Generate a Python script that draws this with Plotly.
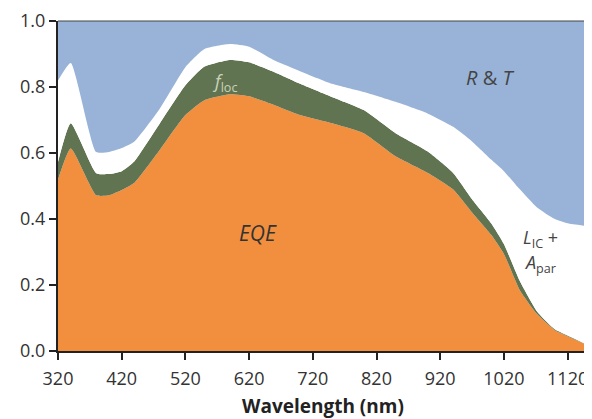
import plotly.graph_objects as go

wavelength = [320, 340, 380, 400, 420, 440, 480, 520, 550, 590, 620, 660, 700, 750,
              800, 850, 900, 940, 970, 1000, 1020, 1045, 1072, 1100, 1120, 1152]
eqe = [0.52, 0.614, 0.472, 0.472, 0.488, 0.51, 0.61, 0.715, 0.76, 0.778, 0.772, 0.745,
       0.715, 0.69, 0.66, 0.59, 0.54, 0.49, 0.42, 0.352, 0.294, 0.184, 0.112, 0.063, 0.045, 0.017]
f_loc = [0.053, 0.076, 0.067, 0.064, 0.057, 0.065, 0.08, 0.09, 0.102, 0.104, 0.103, 0.10,
         0.095, 0.08, 0.07, 0.07, 0.065, 0.05, 0.04, 0.035, 0.03, 0.028, 0.008, 0.003, 0.002, 0.001]
lic_apar = [0.247, 0.183, 0.064, 0.067, 0.07, 0.06, 0.045, 0.055, 0.053, 0.048, 0.047, 0.035,
            0.038, 0.04, 0.055, 0.095, 0.115, 0.14, 0.175, 0.193, 0.221, 0.278, 0.315, 0.334, 0.34, 0.36]
r_and_t = [0.18, 0.127, 0.397, 0.397, 0.385, 0.365, 0.265, 0.14, 0.085, 0.07, 0.078, 0.12,
           0.152, 0.19, 0.215, 0.245, 0.28, 0.32, 0.365, 0.42, 0.455, 0.51, 0.565, 0.60, 0.613, 0.622]

x_ticks = [320, 420, 520, 620, 720, 820, 920, 1020, 1120]
y_ticks = [0.0, 0.2, 0.4, 0.6, 0.8, 1.0]

layers = [
    ("EQE", eqe, "#F28F3F"),
    ("f_loc", f_loc, "#617452"),
    ("L_IC + A_par", lic_apar, "#FFFFFF"),
    ("R & T", r_and_t, "#98B3D7"),
]

fig = go.Figure()
for name, vals, col in layers:
    fig.add_trace(go.Scatter(
        x=wavelength, y=vals, name=name, mode="lines", stackgroup="one",
        line=dict(width=0, color=col, shape="spline", smoothing=0.5),
        fillcolor=col, hoverinfo="x+y"))

font = "Open Sans, DejaVu Sans, sans-serif"
fig.update_layout(
    width=584, height=411,
    margin=dict(l=50, r=4, t=13, b=68),
    paper_bgcolor="white", plot_bgcolor="white",
    showlegend=False,
    font=dict(family=font, size=18, color="#333333"),
    xaxis=dict(range=[320, 1152], tickvals=x_ticks, ticks="outside", ticklen=7,
               tickwidth=2, tickcolor="#222", showline=True, linecolor="#222", linewidth=2,
               showgrid=False, zeroline=False, automargin=False, ticklabelstandoff=3,
               title=dict(text="<b>Wavelength (nm)</b>", font=dict(size=19, color="#222"), standoff=14)),
    yaxis=dict(range=[0, 1.0], tickvals=y_ticks, tickformat=".1f", ticks="outside", ticklen=7,
               tickwidth=2, tickcolor="#222", showline=True, linecolor="#222", linewidth=2,
               showgrid=False, zeroline=False, automargin=False),
)
# thin top/right border
fig.add_shape(type="line", xref="paper", yref="paper", x0=0, x1=1, y0=1, y1=1,
              line=dict(color="#444", width=1))
fig.add_shape(type="line", xref="paper", yref="paper", x0=1, x1=1, y0=0, y1=1,
              line=dict(color="#444", width=1))

fig.add_annotation(x=998, y=0.83, text="<i>R</i> & <i>T</i>", showarrow=False,
                   font=dict(size=20, color="#444"))
fig.add_annotation(x=634, y=0.357, text="<i>EQE</i>", showarrow=False,
                   font=dict(size=21, color="#333"))
fig.add_annotation(x=582, y=0.815, text="<i>f</i><sub>loc</sub>", showarrow=False,
                   font=dict(size=18, color="#C9D2B8"))
fig.add_annotation(x=1077, y=0.34, text="<i>L</i><sub>IC</sub> +", showarrow=False,
                   font=dict(size=18, color="#444"))
fig.add_annotation(x=1077, y=0.266, text="<i>A</i><sub>par</sub>", showarrow=False,
                   font=dict(size=18, color="#444"))

fig.write_html("out.html")
